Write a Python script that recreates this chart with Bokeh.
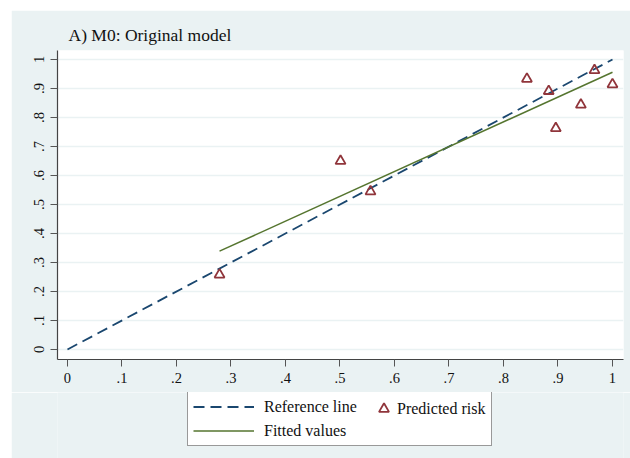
import math
from bokeh.plotting import figure
from bokeh.layouts import column
from bokeh.models import Range1d, FixedTicker, Legend, LegendItem
from bokeh.embed import file_html
from bokeh.resources import INLINE

# ---- data ----
title_text = "A) M0: Original model"
ref_x = [0.0, 1.0]
ref_y = [0.0, 1.0]
risk_x = [0.279, 0.501, 0.556, 0.843, 0.883, 0.896, 0.942, 0.967, 1.000]
risk_y = [0.258, 0.650, 0.545, 0.933, 0.891, 0.763, 0.844, 0.963, 0.914]
fit_x = [0.279, 1.0]
fit_y = [0.339, 0.956]
x_ticks = [0.0, 0.1, 0.2, 0.3, 0.4, 0.5, 0.6, 0.7, 0.8, 0.9, 1.0]
x_tick_labels = ["0", ".1", ".2", ".3", ".4", ".5", ".6", ".7", ".8", ".9", "1"]
y_ticks = [0.0, 0.1, 0.2, 0.3, 0.4, 0.5, 0.6, 0.7, 0.8, 0.9, 1.0]
y_tick_labels = ["0", ".1", ".2", ".3", ".4", ".5", ".6", ".7", ".8", ".9", "1"]
legend_labels = ["Reference line", "Fitted values", "Predicted risk"]

NAVY = "#1A476F"
GREEN = "#55752F"
MAROON = "#90353B"
BG = "#EAF2F3"
SERIF = "Liberation Serif"

REF_STYLE = dict(line_color=NAVY, line_width=1.8, line_dash="11 6")
FIT_STYLE = dict(line_color=GREEN, line_width=1.5)
RISK_STYLE = dict(marker="triangle", size=10, fill_color=None, line_color=MAROON, line_width=1.8)

p = figure(width=619, height=382, output_backend="svg", toolbar_location=None,
           x_range=Range1d(-0.0183, 1.0202), y_range=Range1d(-0.0345, 1.031),
           min_border_left=46, min_border_right=7, min_border_top=40, min_border_bottom=33)
p.margin = (10, 0, 0, 11)
p.background_fill_color = "white"
p.border_fill_color = BG
p.outline_line_color = None

p.title.text = title_text
p.title.text_font = SERIF
p.title.text_font_size = "17.5px"
p.title.text_font_style = "normal"
p.title.text_color = "#111111"
p.title.align = "left"
p.title.offset = 11
p.title.standoff = 11

for ax, ticks, labels in ((p.xaxis, x_ticks, x_tick_labels), (p.yaxis, y_ticks, y_tick_labels)):
    ax.ticker = FixedTicker(ticks=ticks)
    ax.major_label_overrides = {t: l for t, l in zip(ticks, labels)}
    ax.major_label_text_font = SERIF
    ax.major_label_text_font_size = "14.5px"
    ax.major_label_text_color = "#111111"
    ax.axis_line_color = "#444444"
    ax.axis_line_width = 1.2
    ax.major_tick_line_color = "#555555"
    ax.major_tick_out = 7
    ax.major_tick_in = 0
    ax.minor_tick_line_color = None
    ax.major_label_standoff = 6
p.yaxis.major_label_orientation = "vertical"

p.xgrid.visible = False
p.ygrid.ticker = FixedTicker(ticks=y_ticks)
p.ygrid.grid_line_color = BG
p.ygrid.grid_line_width = 1.5

# marks
p.line(ref_x, ref_y, **REF_STYLE)
p.line(fit_x, fit_y, **FIT_STYLE)
p.scatter(risk_x, risk_y, **RISK_STYLE)

# ---- legend strip below the chart (its own ranges keep the key renderers off-screen) ----
q = figure(width=619, height=66, output_backend="svg", toolbar_location=None,
           x_range=Range1d(100, 200), y_range=Range1d(100, 200),
           min_border=0, min_border_left=0, min_border_right=0,
           min_border_top=0, min_border_bottom=0)
q.margin = (0, 0, 0, 11)
q.axis.visible = False
q.grid.visible = False
q.background_fill_color = BG
q.border_fill_color = BG
q.outline_line_color = None

kr = q.line(ref_x, ref_y, **REF_STYLE)
kf = q.line(fit_x, fit_y, **FIT_STYLE)
ks = q.scatter(risk_x, risk_y, **RISK_STYLE)

legA = Legend(items=[LegendItem(label=legend_labels[0], renderers=[kr]),
                     LegendItem(label=legend_labels[1], renderers=[kf])],
              location=(130, 12), orientation="vertical",
              border_line_color="#333333", border_line_width=1,
              background_fill_color="white", background_fill_alpha=1.0,
              padding=5, spacing=5, margin=0,
              glyph_width=61, glyph_height=19, label_height=19, label_width=222,
              label_standoff=10, label_text_font=SERIF, label_text_font_size="16px",
              label_text_color="#111111")
legB = Legend(items=[LegendItem(label=legend_labels[2], renderers=[ks])],
              location=(314, 37), orientation="vertical",
              border_line_color=None, background_fill_alpha=0.0,
              padding=0, spacing=0, margin=0,
              glyph_width=25, glyph_height=25, label_height=25,
              label_standoff=1, label_text_font=SERIF, label_text_font_size="16px",
              label_text_color="#111111")
q.add_layout(legA)
q.add_layout(legB)

layout = column(p, q, spacing=0)
open("out.html", "w").write(file_html(layout, INLINE))
